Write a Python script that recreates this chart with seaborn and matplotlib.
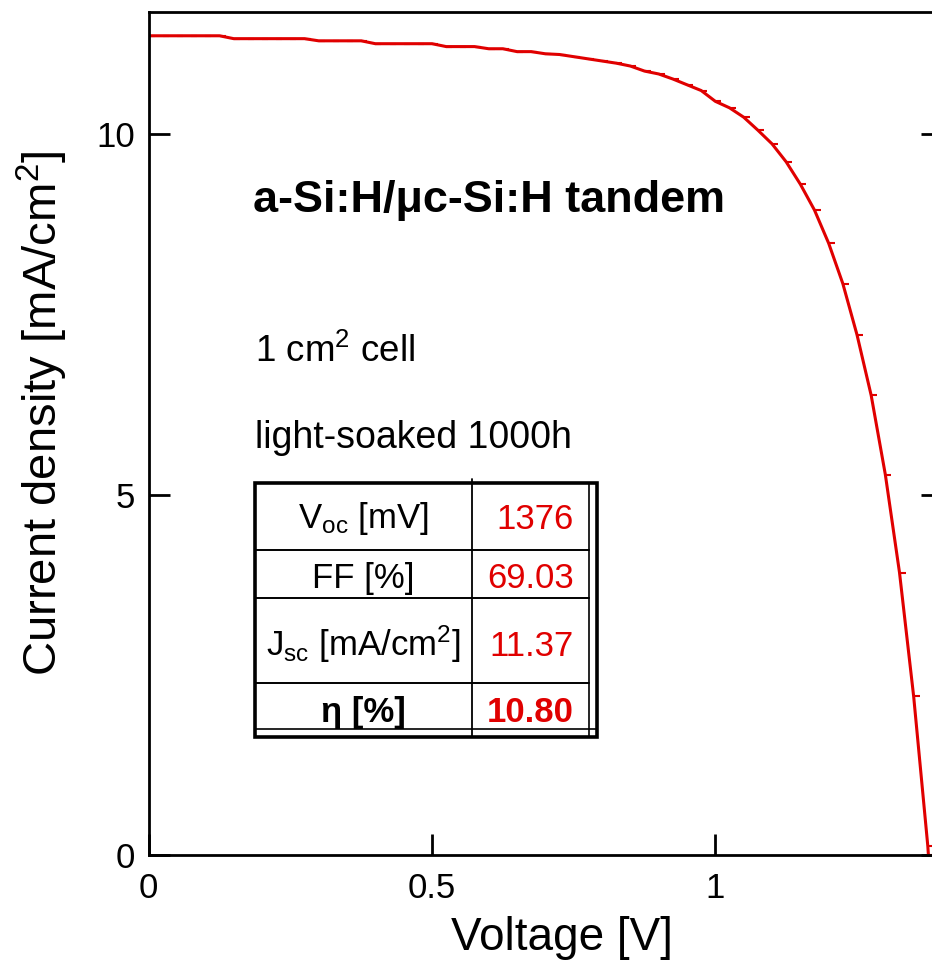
import matplotlib
matplotlib.use('Agg')
import matplotlib.pyplot as plt
import seaborn as sns
import pandas as pd
from matplotlib.patches import Rectangle
from matplotlib.lines import Line2D

# ---- data ----
voltage = [0.000, 0.025, 0.050, 0.075, 0.100, 0.125, 0.150, 0.175, 0.200, 0.225,
           0.250, 0.275, 0.300, 0.325, 0.350, 0.375, 0.400, 0.425, 0.450, 0.475,
           0.500, 0.525, 0.550, 0.575, 0.600, 0.625, 0.650, 0.675, 0.700, 0.725,
           0.750, 0.775, 0.800, 0.825, 0.850, 0.875, 0.900, 0.925, 0.950, 0.975,
           1.000, 1.025, 1.050, 1.075, 1.100, 1.125, 1.150, 1.175, 1.200, 1.225,
           1.250, 1.275, 1.300, 1.325, 1.350, 1.375, 1.376]
current = [11.37, 11.37, 11.37, 11.37, 11.37, 11.37, 11.33, 11.33, 11.33, 11.33,
           11.33, 11.33, 11.30, 11.30, 11.30, 11.30, 11.26, 11.26, 11.26, 11.26,
           11.26, 11.22, 11.22, 11.22, 11.19, 11.19, 11.15, 11.15, 11.12, 11.11,
           11.08, 11.05, 11.02, 10.99, 10.95, 10.88, 10.84, 10.77, 10.69, 10.61,
           10.46, 10.37, 10.24, 10.06, 9.87, 9.62, 9.31, 8.95, 8.49, 7.93,
           7.22, 6.38, 5.28, 3.92, 2.20, 0.12, 0.0]
x_ticks = [0, 0.5, 1]
x_tick_labels = ['0', '0.5', '1']
y_ticks = [0, 5, 10]
y_tick_labels = ['0', '5', '10']
title_text = 'a-Si:H/\u03bcc-Si:H tandem'
info_lines = ['1 cm$^{2}$ cell', 'light-soaked 1000h']
table_labels = ['V$_{\\mathrm{oc}}$ [mV]', 'FF [%]', 'J$_{\\mathrm{sc}}$ [mA/cm$^{2}$]', '\u03b7 [%]']
table_values = ['1376', '69.03', '11.37', '10.80']

RED = '#e00000'

sns.set_theme(style='ticks')
plt.rcParams['font.family'] = ['Liberation Sans', 'DejaVu Sans']
plt.rcParams['mathtext.fontset'] = 'custom'
plt.rcParams['mathtext.rm'] = 'Liberation Sans'
plt.rcParams['mathtext.it'] = 'Liberation Sans:italic'
plt.rcParams['mathtext.bf'] = 'Liberation Sans:bold'
for k in ['text.color', 'axes.labelcolor', 'xtick.color', 'ytick.color', 'axes.edgecolor']:
    plt.rcParams[k] = 'black'

W, H = 932, 964
fig = plt.figure(figsize=(W / 100, H / 100), dpi=100)
fig.patch.set_facecolor('white')

ax_left, ax_right, ax_top, ax_bottom = 148.7, 942.0, 12.0, 855.0
ax = fig.add_axes([ax_left / W, 1 - ax_bottom / H, (ax_right - ax_left) / W, (ax_bottom - ax_top) / H])

df = pd.DataFrame({'V': voltage, 'J': current})
sns.lineplot(data=df, x='V', y='J', ax=ax, color=RED, lw=2.2, marker=1,
             markersize=4, markeredgewidth=1.5, markeredgecolor=RED, sort=False)

ax.set_xlim(0, 1.4)
ax.set_ylim(0, 11.7)
ax.set_xticks(x_ticks)
ax.set_xticklabels(x_tick_labels)
ax.set_yticks(y_ticks)
ax.set_yticklabels(y_tick_labels)
ax.tick_params(direction='in', length=15, width=2, labelsize=25,
               right=True, top=False, colors='black')
ax.tick_params(axis='x', pad=12)
ax.tick_params(axis='y', pad=10)
for s in ax.spines.values():
    s.set_linewidth(2)
    s.set_color('black')
    s.set_visible(True)

ax.set_xlabel('Voltage [V]', fontsize=33)
ax.set_ylabel('Current density [mA/cm$^{2}$]', fontsize=34)
ax.xaxis.set_label_coords((562 - ax_left) / (ax_right - ax_left), -(916 - ax_bottom) / (ax_bottom - ax_top))
ax.yaxis.set_label_coords((70 - ax_left) / (ax_right - ax_left), (ax_bottom - 413) / (ax_bottom - ax_top))


def F(x, y):
    return (x / W, 1 - y / H)


fig.text(*F(253, 212), title_text, fontsize=32.4, fontweight='bold', ha='left', va='baseline')
fig.text(*F(255, 362), info_lines[0], fontsize=26.5, ha='left', va='baseline')
fig.text(*F(255, 448), info_lines[1], fontsize=27, ha='left', va='baseline')

# table
tl, tr, tt, tb = 255, 597, 483, 737
fig.patches.append(Rectangle(F(tl, tb), (tr - tl) / W, (tb - tt) / H, transform=fig.transFigure,
                             fill=True, facecolor='white', edgecolor='black', lw=2.6, zorder=5))
def hline(y, x0, x1, lw):
    fig.lines.append(Line2D([x0 / W, x1 / W], [1 - y / H, 1 - y / H], transform=fig.transFigure,
                            color='black', lw=lw, zorder=6))
def vline(x, y0, y1, lw):
    fig.lines.append(Line2D([x / W, x / W], [1 - y0 / H, 1 - y1 / H], transform=fig.transFigure,
                            color='black', lw=lw, zorder=6))

vline(589, tt, tb, 1.2)
hline(729, tl, tr, 1.2)
vline(472, tt - 4, tb, 1.3)
for yy in [550, 598, 683]:
    hline(yy, tl, 589, 1.4)

label_baselines = [528, 588, 656, 722]
value_baselines = [529, 588, 656, 722]
for i, (lab, val) in enumerate(zip(table_labels, table_values)):
    bold = (i == 3)
    fig.text(*F(363, label_baselines[i]), lab, fontsize=25, ha='center', va='baseline',
             fontweight='bold' if bold else 'normal', zorder=7)
    fig.text(*F(574, value_baselines[i]), val, fontsize=25, ha='right', va='baseline',
             color=RED, fontweight='bold' if bold else 'normal', zorder=7)

fig.savefig('out.png', dpi=100)
